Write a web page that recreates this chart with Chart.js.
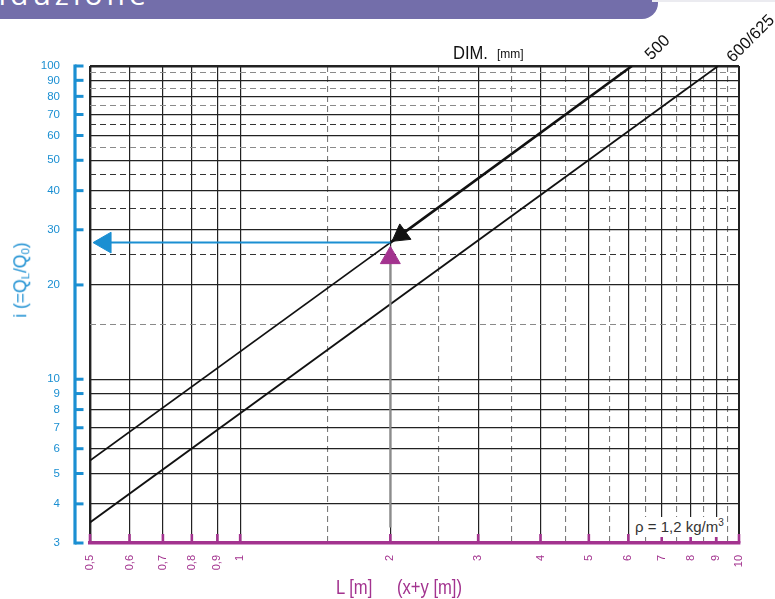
<!DOCTYPE html>
<html><head><meta charset="utf-8">
<script src="https://cdn.jsdelivr.net/npm/chart.js@4.4.1/dist/chart.umd.min.js"></script>
<style>
html,body{margin:0;padding:0;background:#fff;width:775px;height:599px;overflow:hidden;position:relative;font-family:"Liberation Sans",Arial,sans-serif;}
#c{position:absolute;left:0;top:0;}
.t{position:absolute;white-space:pre;line-height:1;}
</style></head><body>
<div style="position:absolute;left:0;top:0;width:658px;height:19px;background:#736eaa;border-bottom-right-radius:16px;overflow:hidden;">
  <span style="position:absolute;left:-24px;top:-21px;font-family:'Open Sans';font-size:30px;line-height:30px;letter-spacing:4px;color:#fff;white-space:pre">Riduzione</span>
</div>
<div style="position:absolute;left:652px;top:0;width:123px;height:2px;background:#ebebf0"></div>
<canvas id="c" width="775" height="599"></canvas>

<div class="t" style="left:453px;top:43.6px;font-size:18px;color:#111;transform:scaleX(0.92);transform-origin:left">DIM.</div>
<div class="t" style="left:497px;top:47.8px;font-size:12px;color:#111">[mm]</div>
<div class="t" style="left:657px;top:47px;font-size:16.5px;color:#111;transform:translate(-50%,-50%) rotate(-45deg)">500</div>
<div class="t" style="left:750px;top:38px;font-size:16.5px;color:#111;transform:translate(-50%,-50%) rotate(-45deg)">600/625</div>
<div class="t" style="left:21px;top:280px;font-size:17.5px;color:#1b8fd2;transform:translate(-50%,-50%) rotate(-90deg)">i (=Q<sub style="font-size:0.65em;vertical-align:-0.3em;line-height:0">L</sub>/Q<sub style="font-size:0.65em;vertical-align:-0.3em;line-height:0">0</sub>)</div>
<div class="t" style="left:336px;top:577px;font-size:20px;color:#a3338f;transform:scaleX(0.83);transform-origin:left">L [m]</div>
<div class="t" style="left:397px;top:577px;font-size:20px;color:#a3338f;transform:scaleX(0.83);transform-origin:left">(x+y [m])</div>
<div style="position:absolute;left:632px;top:516.8px;height:20px;line-height:20px;padding:0 3px;background:#fff;font-size:15px;color:#333;white-space:pre">ρ = 1,2 kg/m<sup style="font-size:10px;line-height:0;vertical-align:6px">3</sup></div>

<script>
// ---- data ----
const xMajorTicks = [0.5, 0.6, 0.7, 0.8, 0.9, 1, 2, 3, 4, 5, 6, 7, 8, 9, 10];
const xTickLabels = ['0,5', '0,6', '0,7', '0,8', '0,9', '1', '2', '3', '4', '5', '6', '7', '8', '9', '10'];
const xMinorTicks = [1.5, 2.5, 3.5, 4.5, 5.5, 6.5, 7.5, 8.5, 9.5];
const yMajorTicks = [3, 4, 5, 6, 7, 8, 9, 10, 20, 30, 40, 50, 60, 70, 80, 90, 100];
const yTickLabels = ['3', '4', '5', '6', '7', '8', '9', '10', '20', '30', '40', '50', '60', '70', '80', '90', '100'];
const yMinorTicks = [15, 25, 35, 45, 55, 65, 75, 85, 95];
const yMinorDark = [25, 35, 45, 65];

// DIM 500 line (L, i)
const dim500L = [0.5, 2, 6.1];
const dim500I = [5.5, 27.3, 100];
// DIM 600/625 line
const dim600L = [0.5, 9.08];
const dim600I = [3.49, 100];
// reading example: vertical input arrow, pointer arrow on 500 line, horizontal result arrow
const inputL = [2, 2];
const inputI = [3.36, 24.4];
const pointerL = [2.1];
const pointerI = [28.9];
const resultL = [2, 0.536];
const resultI = [27.3, 27.3];

const BLUE = '#1b8fd2';
const MAGENTA = '#a3338f';
const FONT = 'Liberation Sans, Arial, sans-serif';
const pts = (xs, ys) => xs.map((v, i) => ({x: v, y: ys[i]}));

const axisDecor = {
  id: 'axisDecor',
  afterDraw(chart) {
    const {ctx, chartArea: a} = chart;
    const x = chart.scales.x, y = chart.scales.y;
    ctx.save();
    ctx.lineCap = 'butt';
    ctx.strokeStyle = BLUE;
    ctx.lineWidth = 3.2;
    const ax = 75;
    ctx.beginPath();
    ctx.moveTo(ax, y.getPixelForValue(100) - 1.5);
    ctx.lineTo(ax, y.getPixelForValue(3) + 1.5);
    ctx.stroke();
    ctx.lineWidth = 3;
    yMajorTicks.forEach(v => {
      const py = y.getPixelForValue(v);
      ctx.beginPath(); ctx.moveTo(ax, py); ctx.lineTo(ax + 8.5, py); ctx.stroke();
    });
    ctx.strokeStyle = MAGENTA;
    ctx.lineWidth = 2.6;
    xMajorTicks.forEach(v => {
      const px = x.getPixelForValue(v);
      ctx.beginPath(); ctx.moveTo(px, a.bottom); ctx.lineTo(px, a.bottom - 9); ctx.stroke();
    });
    ctx.restore();
  }
};

new Chart(document.getElementById('c'), {
  type: 'line',
  data: {
    datasets: [
      { data: pts(pointerL, pointerI), showLine: false, pointRadius: 11, pointStyle: 'triangle',
        pointRotation: 234, pointBackgroundColor: '#111', pointBorderColor: '#111', pointBorderWidth: 1 },
      { data: pts(inputL, inputI), borderColor: '#8c8c8c', borderWidth: 2.2,
        pointRadius: [0, 11.5], pointStyle: 'triangle', pointRotation: [0, 0],
        pointBackgroundColor: MAGENTA, pointBorderColor: MAGENTA, pointBorderWidth: 1 },
      { data: pts(resultL, resultI), borderColor: BLUE, borderWidth: 2,
        pointRadius: [0, 12], pointStyle: 'triangle', pointRotation: [0, -90],
        pointBackgroundColor: BLUE, pointBorderColor: BLUE, pointBorderWidth: 1 },
      { label: '500', data: pts(dim500L, dim500I), borderColor: '#111', borderWidth: 1.8, pointRadius: 0,
        segment: { borderWidth: c => c.p0DataIndex >= 1 ? 2.6 : 1.8 } },
      { label: '600/625', data: pts(dim600L, dim600I), borderColor: '#111', borderWidth: 1.8, pointRadius: 0 }
    ]
  },
  options: {
    responsive: false,
    animation: false,
    devicePixelRatio: 1,
    layout: { padding: { top: 66, right: 36, bottom: 0, left: 0 } },
    plugins: { legend: { display: false }, tooltip: { enabled: false } },
    scales: {
      x: {
        type: 'logarithmic', min: 0.5, max: 10, position: 'bottom',
        afterBuildTicks: s => { s.ticks = xMajorTicks.map(v => ({value: v})); },
        afterFit: s => { s.height = 56; },
        grid: { color: '#222', drawTicks: false,
          lineWidth: c => (c.tick && c.tick.value === 0.5) ? 2.4 : ((c.tick && c.tick.value === 10) ? 2 : 1.2) },
        border: { display: true, color: MAGENTA, width: 3.5 },
        ticks: { autoSkip: false, minRotation: 90, maxRotation: 90, padding: 12, color: MAGENTA,
          font: { family: FONT, size: 11 },
          callback: v => xTickLabels[xMajorTicks.indexOf(v)] }
      },
      x2: {
        type: 'logarithmic', min: 0.5, max: 10, position: 'bottom',
        afterBuildTicks: s => { s.ticks = xMinorTicks.map(v => ({value: v})); },
        afterFit: s => { s.height = 0; },
        grid: { color: '#7a7a7a', lineWidth: 1.1, drawTicks: false, borderDash: [6, 4] },
        border: { display: false, dash: [6, 4] },
        ticks: { display: false }
      },
      y: {
        type: 'logarithmic', min: 3, max: 100, position: 'left',
        afterBuildTicks: s => { s.ticks = yMajorTicks.map(v => ({value: v})); },
        afterFit: s => { s.width = 90; },
        grid: { color: '#222', drawTicks: false,
          lineWidth: c => (c.tick && c.tick.value === 100) ? 2.4 : ((c.tick && c.tick.value === 3) ? 0 : 1.2) },
        border: { display: false },
        ticks: { autoSkip: false, padding: 30, color: BLUE, font: { family: FONT, size: 11.5 },
          callback: v => yTickLabels[yMajorTicks.indexOf(v)] }
      },
      y2: {
        type: 'logarithmic', min: 3, max: 100, position: 'left',
        afterBuildTicks: s => { s.ticks = yMinorTicks.map(v => ({value: v})); },
        afterFit: s => { s.width = 0; },
        grid: { drawTicks: false, lineWidth: 1.1, borderDash: [6, 4],
          color: c => (c.tick && yMinorDark.includes(c.tick.value)) ? '#333' : '#8a8a8a' },
        border: { display: false, dash: [6, 4] },
        ticks: { display: false }
      }
    }
  },
  plugins: [axisDecor]
});
</script>
</body></html>
